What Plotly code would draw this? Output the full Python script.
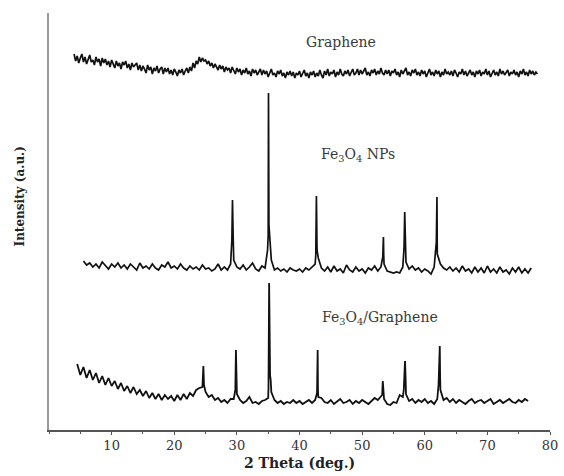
import numpy as np
import plotly.graph_objects as go

# 2-theta scan positions for each sample
graphene_x = np.arange(4.0, 78.01, 0.25)
np_x = np.arange(5.5, 77.01, 0.5)
comp_x = np.arange(4.5, 76.51, 0.5)

# Stacked intensities (a.u., with vertical offsets between samples)
graphene_y = [
    376, 369, 374, 367, 372, 376, 368, 373, 366, 371, 375, 368, 370, 365, 373, 368, 371, 364, 372, 367,
    371, 365, 369, 363, 370, 366, 362, 369, 364, 367, 361, 368, 365, 369, 362, 366, 360, 367, 363, 365,
    367, 360, 365, 359, 364, 361, 357, 365, 360, 363, 356, 362, 359, 364, 357, 361, 363, 356, 362, 358,
    362, 356, 360, 355, 361, 358, 354, 360, 357, 361, 355, 359, 362, 357, 363, 359, 367, 362, 369, 366,
    373, 368, 372, 369, 370, 366, 369, 364, 367, 362, 366, 363, 360, 365, 361, 364, 358, 363, 360, 362,
    357, 363, 359, 356, 362, 358, 361, 355, 360, 357, 362, 356, 359, 354, 361, 357, 360, 355, 358, 361,
    355, 360, 356, 359, 353, 358, 361, 355, 357, 353, 359, 356, 360, 354, 357, 352, 358, 355, 359, 354,
    358, 352, 357, 355, 359, 353, 356, 360, 354, 357, 352, 358, 355, 359, 353, 357, 354, 360, 355, 352,
    359, 355, 361, 354, 358, 356, 360, 353, 358, 355, 361, 356, 354, 359, 356, 360, 354, 358, 361, 355,
    357, 361, 355, 360, 356, 359, 362, 355, 358, 354, 360, 357, 361, 355, 359, 356, 362, 357, 355, 360,
    356, 360, 354, 359, 357, 361, 355, 358, 353, 360, 356, 359, 362, 355, 358, 354, 360, 357, 361, 355,
    358, 354, 360, 356, 359, 353, 357, 361, 355, 358, 354, 360, 356, 359, 353, 358, 355, 361, 356, 358,
    355, 359, 354, 360, 357, 353, 358, 356, 361, 355, 359, 354, 357, 360, 355, 358, 353, 359, 356, 360,
    354, 358, 356, 361, 355, 359, 353, 357, 360, 355, 358, 354, 361, 356, 359, 355, 357, 360, 354, 358,
    356, 360, 355, 358, 353, 359, 356, 361, 355, 358, 354, 360, 356, 359, 355, 358, 356,
]

np_y = [
    169, 165, 167, 163, 166, 162, 168, 164, 161, 166,
    163, 167, 162, 165, 161, 166, 163, 160, 167, 162,
    164, 161, 166, 162, 160, 165, 163, 168, 162, 164,
    161, 166, 162, 160, 164, 161, 163, 160, 165, 161,
    162, 159, 161, 166, 160, 163, 160, 166, 170, 163,
    161, 165, 160, 163, 167, 161, 159, 164, 162, 195,
    170, 160, 162, 159, 161, 158, 162, 160, 159, 161,
    158, 162, 160, 163, 166, 172, 162, 159, 163, 158,
    164, 159, 161, 157, 165, 160, 158, 163, 159, 161,
    157, 162, 160, 164, 159, 163, 166, 159, 158, 157,
    158, 157, 163, 168, 161, 164, 160, 162, 158, 161,
    159, 156, 163, 176, 166, 162, 160, 163, 159, 162,
    158, 164, 159, 161, 157, 163, 158, 162, 157, 164,
    158, 161, 157, 163, 158, 160, 156, 162, 158, 163,
    157, 161, 157, 162,
]

comp_y = [
    66, 55, 63, 52, 60, 50, 57, 47, 54, 45,
    52, 44, 49, 41, 47, 39, 44, 37, 43, 36,
    40, 34, 39, 32, 37, 31, 36, 30, 35, 31,
    34, 29, 35, 30, 36, 31, 37, 34, 40, 42,
    43, 38, 33, 35, 30, 32, 28, 30, 27, 31,
    31, 36, 30, 27, 29, 33, 27, 28, 26, 29,
    30, 32, 38, 30, 27, 29, 26, 28, 27, 30,
    27, 29, 26, 28, 30, 27, 30, 33, 32, 28,
    27, 30, 26, 29, 31, 27, 28, 30, 26, 29,
    27, 30, 28, 26, 29, 32, 30, 33, 31, 26,
    25, 28, 27, 35, 33, 36, 29, 31, 27, 30,
    28, 31, 27, 29, 26, 31, 40, 30, 32, 28,
    31, 27, 30, 28, 26, 29, 31, 27, 29, 30,
    27, 29, 31, 26, 28, 30, 27, 29, 31, 28,
    27, 30, 28, 31, 29,
]

# Diffraction peaks (position, intensity) sampled between scan steps
np_peak_x = [29.2, 29.3, 29.4, 34.9, 35.05, 35.12, 42.6, 42.7, 42.8,
             53.3, 53.4, 53.45, 56.7, 56.8, 56.9, 61.85, 61.95, 61.98]
np_peak_y = [190, 230, 195, 180, 337, 205, 175, 234, 180,
             173, 193, 175, 183, 218, 190, 188, 233, 205]

comp_peak_x = [24.55, 24.65, 24.75, 29.75, 29.85, 29.95,
               35.05, 35.15, 35.3, 35.4, 42.8, 42.9, 42.95,
               53.2, 53.3, 53.4, 56.65, 56.75, 56.85, 56.95,
               62.2, 62.3, 62.4, 62.45]
comp_peak_y = [47, 64, 45, 40, 80, 42,
               43, 147, 55, 50, 37, 80, 40,
               35, 49, 34, 40, 62, 69, 50,
               45, 62, 84, 55]

tick_vals = [10, 20, 30, 40, 50, 60, 70, 80]
tick_text = ["10", "20", "30", "40", "50", "60", "70", "80"]

sample_labels = ["Graphene", "Fe<sub>3</sub>O<sub>4</sub> NPs",
                 "Fe<sub>3</sub>O<sub>4</sub>/Graphene"]
label_x = [46.7, 49.3, 52.8]
label_y = [388, 275, 112]


def merge(scan_x, scan_y, peak_x=(), peak_y=()):
    x = np.concatenate([np.asarray(scan_x, float), np.asarray(peak_x, float)])
    y = np.concatenate([np.asarray(scan_y, float), np.asarray(peak_y, float)])
    order = np.argsort(x, kind="stable")
    return x[order], y[order]


SERIF = "DejaVu Serif"

fig = go.Figure()
for sx, sy, px, py, w in [
    (graphene_x, graphene_y, [], [], 1.7),
    (np_x, np_y, np_peak_x, np_peak_y, 1.7),
    (comp_x, comp_y, comp_peak_x, comp_peak_y, 1.8),
]:
    x, y = merge(sx, sy, px, py)
    fig.add_trace(go.Scatter(x=x, y=y, mode="lines",
                             line=dict(color="#111111", width=w),
                             showlegend=False, hoverinfo="skip"))

for text, lx, ly in zip(sample_labels, label_x, label_y):
    fig.add_annotation(x=lx, y=ly, xref="x", yref="y", text=text,
                       showarrow=False,
                       font=dict(family=SERIF, size=14, color="#3a3a3a"))

# Axis titles placed just outside the plotting area
fig.add_annotation(x=0.5, y=0, xref="paper", yref="paper",
                   text="<b>2 Theta (deg.)</b>", showarrow=False,
                   xanchor="center", yanchor="top", yshift=-23,
                   font=dict(family=SERIF, size=14, color="#222222"))
fig.add_annotation(x=0, y=0.56, xref="paper", yref="paper",
                   text="<b>Intensity (a.u.)</b>", showarrow=False,
                   textangle=-90, xanchor="center", yanchor="middle",
                   xshift=-29,
                   font=dict(family=SERIF, size=12, color="#222222"))

fig.update_layout(
    width=564, height=476,
    margin=dict(l=49, r=14, t=13, b=46),
    paper_bgcolor="white", plot_bgcolor="white",
    xaxis=dict(
        range=[0, 80], showgrid=False, zeroline=False, automargin=False,
        showline=True, linecolor="#555555", linewidth=1.5,
        tickmode="array", tickvals=tick_vals, ticktext=tick_text,
        ticks="outside", ticklen=3, tickcolor="#555555",
        ticklabelstandoff=0,
        minor=dict(dtick=5, tick0=0, ticks="outside", ticklen=2,
                   tickcolor="#555555"),
        tickfont=dict(family=SERIF, size=13, color="#333333"),
    ),
    yaxis=dict(
        range=[0, 417], showgrid=False, zeroline=False, automargin=False,
        showline=True, linecolor="#999999", linewidth=2,
        showticklabels=False, ticks="",
    ),
)

fig.write_html("out.html")
